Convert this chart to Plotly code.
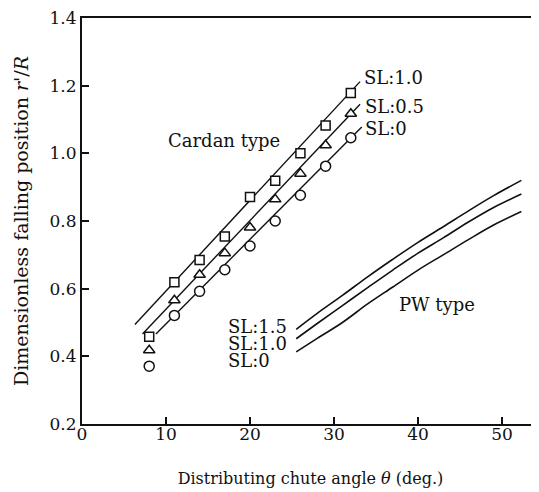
import plotly.graph_objects as go

# Cardan type measured points
theta_pts = [8, 11, 14, 17, 20, 23, 26, 29, 32]
cardan_sl10 = [0.458, 0.619, 0.685, 0.754, 0.871, 0.919, 1.000, 1.082, 1.178]
cardan_sl05 = [0.418, 0.566, 0.641, 0.705, 0.781, 0.864, 0.940, 1.024, 1.117]
cardan_sl00 = [0.371, 0.521, 0.592, 0.656, 0.726, 0.800, 0.876, 0.962, 1.046]

# Cardan type fitted lines (end points)
fit_sl10_x = [6.3, 33.1]
fit_sl10_y = [0.494, 1.212]
fit_sl05_x = [7.2, 33.1]
fit_sl05_y = [0.466, 1.145]
fit_sl00_x = [8.8, 33.3]
fit_sl00_y = [0.466, 1.078]

# PW type curves
pw_theta = [25.5, 28, 31, 34, 37, 40, 43, 46, 49, 52.3]
pw_sl15 = [0.480, 0.527, 0.580, 0.635, 0.687, 0.737, 0.783, 0.830, 0.875, 0.920]
pw_sl10 = [0.452, 0.497, 0.550, 0.603, 0.655, 0.705, 0.750, 0.797, 0.840, 0.880]
pw_sl00 = [0.413, 0.453, 0.500, 0.555, 0.605, 0.655, 0.700, 0.745, 0.788, 0.828]

x_ticks = [0, 10, 20, 30, 40, 50]
y_ticks = [0.2, 0.4, 0.6, 0.8, 1.0, 1.2, 1.4]
y_ticklabels = ["0.2", "0.4", "0.6", "0.8", "1.0", "1.2", "1.4"]

FONT = "DejaVu Serif"
BLACK = "#111111"

fig = go.Figure()

line_style = dict(color=BLACK, width=1.4)
for fx, fy in [(fit_sl10_x, fit_sl10_y), (fit_sl05_x, fit_sl05_y), (fit_sl00_x, fit_sl00_y)]:
    fig.add_trace(go.Scatter(x=fx, y=fy, mode="lines", line=line_style, hoverinfo="skip"))

for py in [pw_sl15, pw_sl10, pw_sl00]:
    fig.add_trace(go.Scatter(x=pw_theta, y=py, mode="lines", line=dict(color=BLACK, width=1.6, shape="spline"),
                             hoverinfo="skip"))

for ys, sym, sz in [(cardan_sl10, "square", 9), (cardan_sl05, "triangle-up", 10), (cardan_sl00, "circle", 10)]:
    fig.add_trace(go.Scatter(x=theta_pts, y=ys, mode="markers",
                             marker=dict(symbol=sym, size=sz, color="white", line=dict(color=BLACK, width=1.5))))

ann_font = dict(family=FONT, size=18, color=BLACK)
annotations = [
    dict(x=33.3, y=1.223, text="SL:1.0", xanchor="left", yanchor="middle", showarrow=False, font=ann_font),
    dict(x=33.4, y=1.137, text="SL:0.5", xanchor="left", yanchor="middle", showarrow=False, font=ann_font),
    dict(x=33.5, y=1.073, text="SL:0", xanchor="left", yanchor="middle", showarrow=False, font=ann_font),
    dict(x=17.2, y=0.488, text="SL:1.5", xanchor="left", yanchor="middle", showarrow=False, font=ann_font),
    dict(x=17.2, y=0.437, text="SL:1.0", xanchor="left", yanchor="middle", showarrow=False, font=ann_font),
    dict(x=17.2, y=0.388, text="SL:0", xanchor="left", yanchor="middle", showarrow=False, font=ann_font),
    dict(x=16.9, y=1.039, text="Cardan type", xanchor="center", yanchor="middle", showarrow=False, font=ann_font),
    dict(x=42.2, y=0.552, text="PW type", xanchor="center", yanchor="middle", showarrow=False, font=ann_font),
]

fig.update_layout(
    width=531, height=484,
    margin=dict(l=74, r=0, t=10, b=68),
    paper_bgcolor="white", plot_bgcolor="white",
    showlegend=False,
    font=dict(family=FONT, color=BLACK),
    annotations=annotations,
    xaxis=dict(
        range=[0, 54.4], tickvals=x_ticks, ticktext=[str(v) for v in x_ticks],
        ticks="inside", ticklen=7, tickwidth=1.5, tickcolor=BLACK,
        showline=True, linecolor=BLACK, linewidth=2, mirror=True,
        showgrid=False, zeroline=False, automargin=False,
        ticklabelstandoff=-6, ticklabeloverflow="allow",
        tickfont=dict(family=FONT, size=17, color=BLACK),
        title=dict(text="Distributing chute angle <i>θ</i> (deg.)", font=dict(family=FONT, size=16, color=BLACK),
                   standoff=29),
    ),
    yaxis=dict(
        range=[0.2, 1.4], tickvals=y_ticks, ticktext=y_ticklabels,
        ticks="inside", ticklen=7, tickwidth=1.5, tickcolor=BLACK,
        showline=True, linecolor=BLACK, linewidth=2,
        showgrid=False, zeroline=False, automargin=False,
        ticklabeloverflow="allow",
        tickfont=dict(family=FONT, size=17, color=BLACK),
        title=dict(text="Dimensionless falling position <i>r'</i>/<i>R</i>", font=dict(family=FONT, size=19, color=BLACK),
                   standoff=16),
    ),
)

fig.write_html("out.html")
